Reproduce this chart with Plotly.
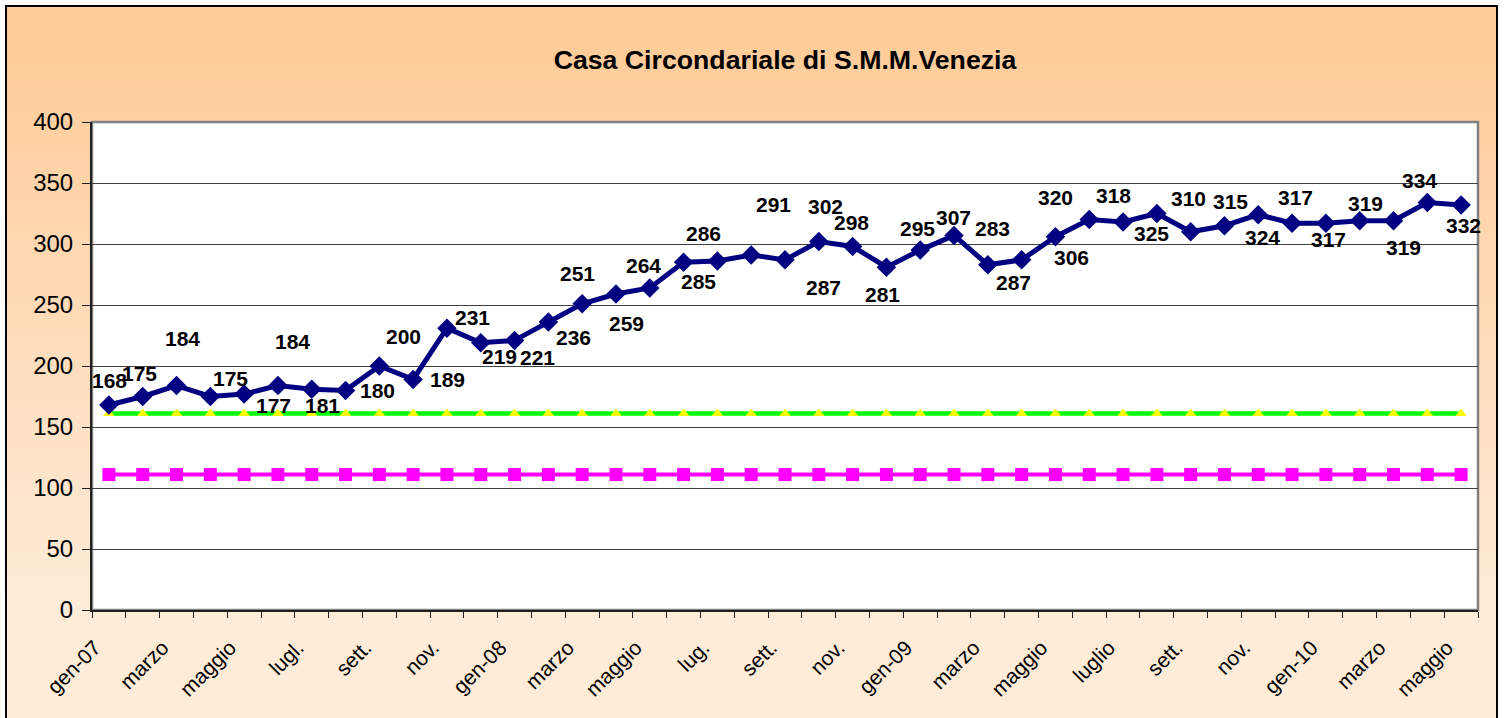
import plotly.graph_objects as go

# ---- data ----
month_index = list(range(41))  # gen-07 .. maggio-10
presenze = [168, 175, 184, 175, 177, 184, 181, 180, 200, 189, 231, 219, 221, 236,
            251, 259, 264, 285, 286, 291, 287, 302, 298, 281, 295, 307, 283, 287,
            306, 320, 318, 325, 310, 315, 324, 317, 317, 319, 319, 334, 332]
tollerabile = [161] * 41
regolamentare = [111] * 41
tick_positions = list(range(0, 41, 2))
tick_labels = ["gen-07", "marzo", "maggio", "lugl.", "sett.", "nov.", "gen-08", "marzo",
               "maggio", "lug.", "sett.", "nov.", "gen-09", "marzo", "maggio", "luglio",
               "sett.", "nov.", "gen-10", "marzo", "maggio"]
title_text = "Casa Circondariale di S.M.M.Venezia"

# label offsets in pixels (dx, dy downwards) - styling only
label_offsets = [(1, -25), (-3, -23), (6, -47), (20, -18), (29, 11), (15, -44), (11, 16),
                 (32, 0), (24, -30), (34, 0), (26, -11), (19, 14), (23, 17), (25, 15),
                 (-5, -30), (11, 29), (-6, -22), (15, 19), (-14, -28), (22, -50), (38, 28),
                 (7, -35), (-1, -24), (-4, 27), (-3, -22), (-1, -18), (5, -36), (-8, 23),
                 (16, 21), (-34, -22), (-10, -27), (-5, 20), (-2, -33), (6, -24), (4, 23),
                 (3, -26), (3, 16), (6, -17), (10, 27), (-8, -22), (2, 21)]

W, H = 1506, 718
L, R, T, B = 92, 1478, 122, 610
FONT = "Liberation Sans, Arial, sans-serif"


def px(xp):
    return (xp - L) / (R - L)


def py(yp):
    return (B - yp) / (B - T)


fig = go.Figure()

fig.add_trace(go.Scatter(x=month_index, y=regolamentare, mode="lines+markers",
                         line=dict(color="#FF00FF", width=4),
                         marker=dict(symbol="square", size=13, color="#FF00FF"),
                         showlegend=False, hoverinfo="skip"))
fig.add_trace(go.Scatter(x=month_index, y=tollerabile, mode="lines+markers",
                         line=dict(color="#00FF00", width=4.5),
                         marker=dict(symbol="triangle-up", size=10, color="#FFFF00"),
                         showlegend=False, hoverinfo="skip"))
fig.add_trace(go.Scatter(x=month_index, y=presenze, mode="lines+markers",
                         line=dict(color="#000080", width=5),
                         marker=dict(symbol="diamond", size=15, color="#000080"),
                         showlegend=False, hoverinfo="skip"))

for xi, v, (dx, dy) in zip(month_index, presenze, label_offsets):
    fig.add_annotation(x=xi, y=v, text="<b>%d</b>" % v, showarrow=False,
                       xshift=dx, yshift=-dy,
                       font=dict(family=FONT, size=21, color="black"))

# gradient background bands (pixel coords -> paper coords)
shapes = []
top_c = (255, 204, 153)
bot_c = (254, 235, 216)
g0, g1 = 40, 600
n = 72
ytop, ybot = 6, H + 4
for k in range(n):
    ya = ytop + (ybot - ytop) * k / n
    yb = ytop + (ybot - ytop) * (k + 1) / n + 0.8
    ym = (ya + yb) / 2
    t = min(max((ym - g0) / (g1 - g0), 0), 1)
    c = tuple(round(top_c[j] + (bot_c[j] - top_c[j]) * t) for j in range(3))
    shapes.append(dict(type="rect", xref="paper", yref="paper", layer="below",
                       x0=px(6), x1=px(1497), y0=py(yb), y1=py(ya),
                       line=dict(width=0), fillcolor="rgb(%d,%d,%d)" % c))
# plot area white
shapes.append(dict(type="rect", xref="paper", yref="paper", layer="below",
                   x0=0, x1=1, y0=0, y1=1, line=dict(width=0), fillcolor="white"))
# plot border (gray top/right)
shapes.append(dict(type="rect", xref="paper", yref="paper", layer="below",
                   x0=0, x1=1, y0=0, y1=1, line=dict(color="#808080", width=2.5)))
# outer frame
shapes.append(dict(type="rect", xref="paper", yref="paper", layer="above",
                   x0=px(6), x1=px(1497), y0=py(725), y1=py(6),
                   line=dict(color="black", width=2)))

fig.update_layout(
    width=W, height=H,
    margin=dict(l=L, r=W - R, t=T, b=H - B),
    paper_bgcolor="white", plot_bgcolor="rgba(0,0,0,0)",
    title=dict(text="<b>%s</b>" % title_text, x=(L + R) / 2 / W, xanchor="center",
               y=1 - 60 / H, yanchor="middle",
               font=dict(family=FONT, size=26.7, color="black")),
    shapes=shapes,
    font=dict(family=FONT, color="black"),
)
fig.update_xaxes(range=[-0.5, 40.5], tickmode="array", tickvals=tick_positions,
                 ticktext=tick_labels, tickangle=-45, ticks="", showgrid=False,
                 zeroline=False, showline=True, linecolor="#202020", linewidth=2,
                 ticklabelstandoff=15, ticklabelshift=-14,
                 tickfont=dict(family=FONT, size=21, color="black"),
                 minor=dict(tickmode="linear", tick0=-0.5, dtick=1, ticks="outside",
                            ticklen=6, tickcolor="#202020", tickwidth=1, showgrid=False))
fig.update_yaxes(range=[0, 400], dtick=50, ticks="outside", ticklen=8,
                 tickcolor="#202020", showgrid=True, gridcolor="#404040", gridwidth=1,
                 zeroline=False, showline=True, linecolor="#202020", linewidth=2,
                 ticklabelstandoff=4,
                 tickfont=dict(family=FONT, size=24, color="black"))

fig.write_html("out.html", config={"displayModeBar": False},
               post_script="document.body.style.margin='0';")
